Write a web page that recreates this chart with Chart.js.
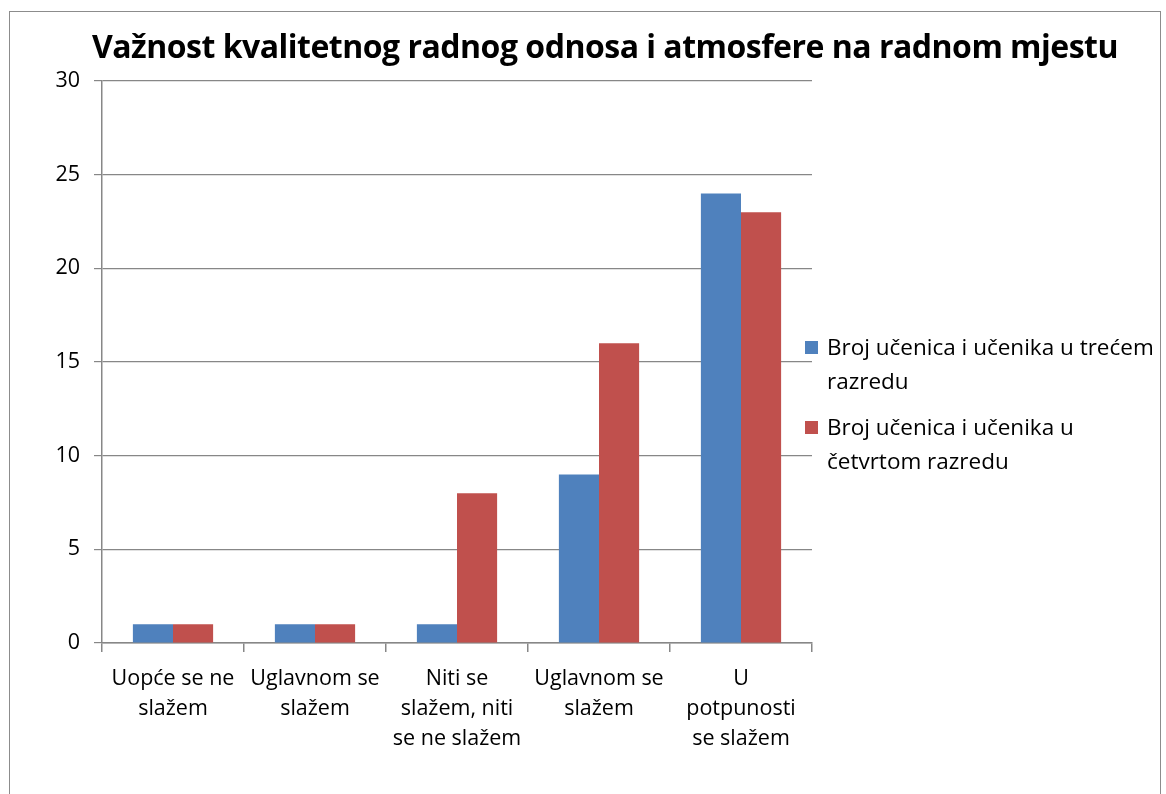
<!DOCTYPE html>
<html>
<head>
<meta charset="utf-8">
<script src="https://cdn.jsdelivr.net/npm/chart.js@4"></script>
<style>
  html, body { margin: 0; padding: 0; background: #fff; }
  #wrap { position: relative; width: 1166px; height: 794px; overflow: hidden; }
  #frame { position: absolute; left: 9px; top: 11px; width: 1150px; height: 800px; border: 1px solid #8c8c8c; }
  #title { position: absolute; left: 55px; width: 1100px; top: 24px; text-align: center; white-space: nowrap;
           font: bold 32px 'Open Sans', sans-serif; color: #000; letter-spacing: -0.5px; }
  #legend { position: absolute; left: 805px; top: 330px; width: 362px; font: 22.5px 'Open Sans', sans-serif; color: #000; }
  .item { position: relative; padding-left: 22px; line-height: 34px; margin-bottom: 12px; }
  .box { position: absolute; left: 0; top: 11px; width: 13px; height: 13px; }
  canvas { position: absolute; left: 0; top: 0; }
</style>
</head>
<body>
<div id="wrap">
  <div id="frame"></div>
  <canvas id="c" width="1166" height="794"></canvas>
  <div id="title"></div>
  <div id="legend"></div>
</div>
<script>
// naslov, kategorije i vrijednosti
const chartTitle = 'Važnost kvalitetnog radnog odnosa i atmosfere na radnom mjestu';
const categories = [
  ['Uopće se ne', 'slažem'],
  ['Uglavnom se', 'slažem'],
  ['Niti se', 'slažem, niti', 'se ne slažem'],
  ['Uglavnom se', 'slažem'],
  ['U', 'potpunosti', 'se slažem']
];
const seriesNames = ['Broj učenica i učenika u trećem razredu', 'Broj učenica i učenika u četvrtom razredu'];
const treciRazred = [1, 1, 1, 9, 24];
const cetvrtiRazred = [1, 1, 8, 16, 23];
const yTicks = [0, 5, 10, 15, 20, 25, 30];

const COLORS = ['#4f81bd', '#c0504d'];
const GRID = '#878787';
const FONT = "'Open Sans', sans-serif";

document.getElementById('title').textContent = chartTitle;

// legenda (tekst se lomi kao u originalu)
document.getElementById('legend').innerHTML = seriesNames.map((n, i) =>
  `<div class="item"><span class="box" style="background:${COLORS[i]}"></span>${n}</div>`
).join('');

new Chart(document.getElementById('c'), {
  type: 'bar',
  data: {
    labels: categories,
    datasets: [
      { label: seriesNames[0], data: treciRazred, backgroundColor: COLORS[0], categoryPercentage: 0.565, barPercentage: 1 },
      { label: seriesNames[1], data: cetvrtiRazred, backgroundColor: COLORS[1], categoryPercentage: 0.565, barPercentage: 1 }
    ]
  },
  options: {
    responsive: false, animation: false,
    layout: { padding: { left: 30, right: 354, top: 81, bottom: 20 } },
    plugins: { legend: { display: false }, title: { display: false }, tooltip: { enabled: false } },
    scales: {
      x: {
        grid: { drawOnChartArea: false, drawTicks: true, tickLength: 9, color: GRID, lineWidth: 1.5 },
        border: { color: GRID, width: 1.5 },
        ticks: { color: '#000', font: { family: FONT, size: 21.5, lineHeight: 1.4 }, maxRotation: 0, autoSkip: false, padding: 12 },
        afterFit: s => { s.height = 131; }
      },
      y: {
        min: 0, max: 30,
        afterBuildTicks: s => { s.ticks = yTicks.map(v => ({ value: v })); },
        grid: { color: GRID, lineWidth: 1.2, tickLength: 8 },
        border: { color: GRID, width: 1.5 },
        ticks: { color: '#000', font: { family: FONT, size: 21.5 }, padding: 14 },
        afterFit: s => { s.width = 72; }
      }
    }
  }
});
</script>
</body>
</html>
